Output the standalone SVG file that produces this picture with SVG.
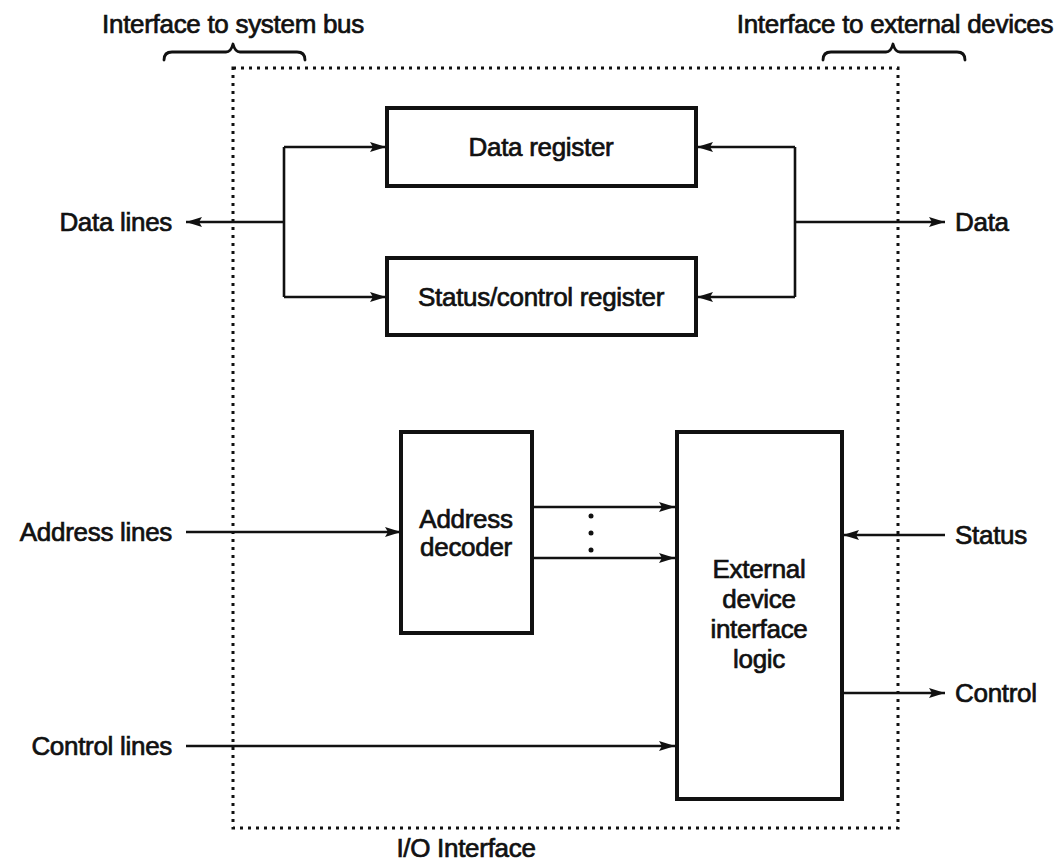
<svg xmlns="http://www.w3.org/2000/svg" width="1061" height="865" viewBox="0 0 1061 865">
<style>
text{font-family:"Liberation Sans",Arial,sans-serif;font-size:26px;fill:#111;stroke:#111;stroke-width:0.7px;letter-spacing:-0.3px}
.c{text-anchor:middle}
.box{fill:#fff;stroke:#111;stroke-width:4}
.ln{fill:none;stroke:#111;stroke-width:2.6}
.dot{fill:none;stroke:#111;stroke-width:3;stroke-dasharray:3 5}
.br{fill:none;stroke:#111;stroke-width:2.8;stroke-linejoin:round;stroke-linecap:round}
</style>
<defs>
<marker id="ah" markerUnits="userSpaceOnUse" markerWidth="18" markerHeight="12" refX="16" refY="5" orient="auto">
<path d="M0,0 L16,5 L0,10 L3,5 Z" fill="#111"/>
</marker>
</defs>
<rect width="1061" height="865" fill="#fff"/>
<g id="frame">
<rect x="233" y="68" width="665" height="760" class="dot"/>
<path class="br" d="M164,60 Q164,52 172,52 L226,52 Q231,52 233,44 Q235,52 240,52 L297,52 Q305,52 305,60"/>
<path class="br" d="M823,60 Q823,52 831,52 L886,52 Q891,52 893,44 Q895,52 900,52 L957,52 Q965,52 965,60"/>
<text x="233" y="33" class="c">Interface to system bus</text>
<text x="895" y="33" class="c">Interface to external devices</text>
<text x="466" y="857" class="c">I/O Interface</text>
</g>
<g id="connectors">
<path class="ln" d="M284,222 L186,222" marker-end="url(#ah)"/>
<path class="ln" d="M284,147 L284,297"/>
<path class="ln" d="M284,147 L386,147" marker-end="url(#ah)"/>
<path class="ln" d="M284,297 L386,297" marker-end="url(#ah)"/>
<path class="ln" d="M795,147 L795,297"/>
<path class="ln" d="M795,147 L697,147" marker-end="url(#ah)"/>
<path class="ln" d="M795,297 L697,297" marker-end="url(#ah)"/>
<path class="ln" d="M795,222 L945,222" marker-end="url(#ah)"/>
<path class="ln" d="M186,532 L401,532" marker-end="url(#ah)"/>
<path class="ln" d="M532,507 L675,507" marker-end="url(#ah)"/>
<path class="ln" d="M532,558 L675,558" marker-end="url(#ah)"/>
<path class="ln" d="M186,746 L675,746" marker-end="url(#ah)"/>
<path class="ln" d="M945,535 L843,535" marker-end="url(#ah)"/>
<path class="ln" d="M842,693 L945,693" marker-end="url(#ah)"/>
<circle cx="591" cy="516" r="2.5" fill="#111"/>
<circle cx="591" cy="533" r="2.5" fill="#111"/>
<circle cx="591" cy="550" r="2.5" fill="#111"/>
</g>
<g id="data-register">
<rect x="387" y="108" width="309" height="78" class="box"/>
<text x="541" y="156" class="c">Data register</text>
</g>
<g id="status-control-register">
<rect x="387" y="258" width="309" height="77" class="box"/>
<text x="541" y="306" class="c">Status/control register</text>
</g>
<g id="address-decoder">
<rect x="401" y="432" width="131" height="201" class="box"/>
<text x="466" y="528" class="c">Address</text>
<text x="466" y="556" class="c">decoder</text>
</g>
<g id="external-device-interface-logic">
<rect x="677" y="432" width="165" height="367" class="box"/>
<text x="759" y="578" class="c">External</text>
<text x="759" y="608" class="c">device</text>
<text x="759" y="638" class="c">interface</text>
<text x="759" y="668" class="c">logic</text>
</g>
<g id="labels">
<text x="172" y="231" text-anchor="end">Data lines</text>
<text x="955" y="231">Data</text>
<text x="172" y="541" text-anchor="end">Address lines</text>
<text x="172" y="755" text-anchor="end">Control lines</text>
<text x="955" y="544">Status</text>
<text x="955" y="702">Control</text>
</g>
</svg>
